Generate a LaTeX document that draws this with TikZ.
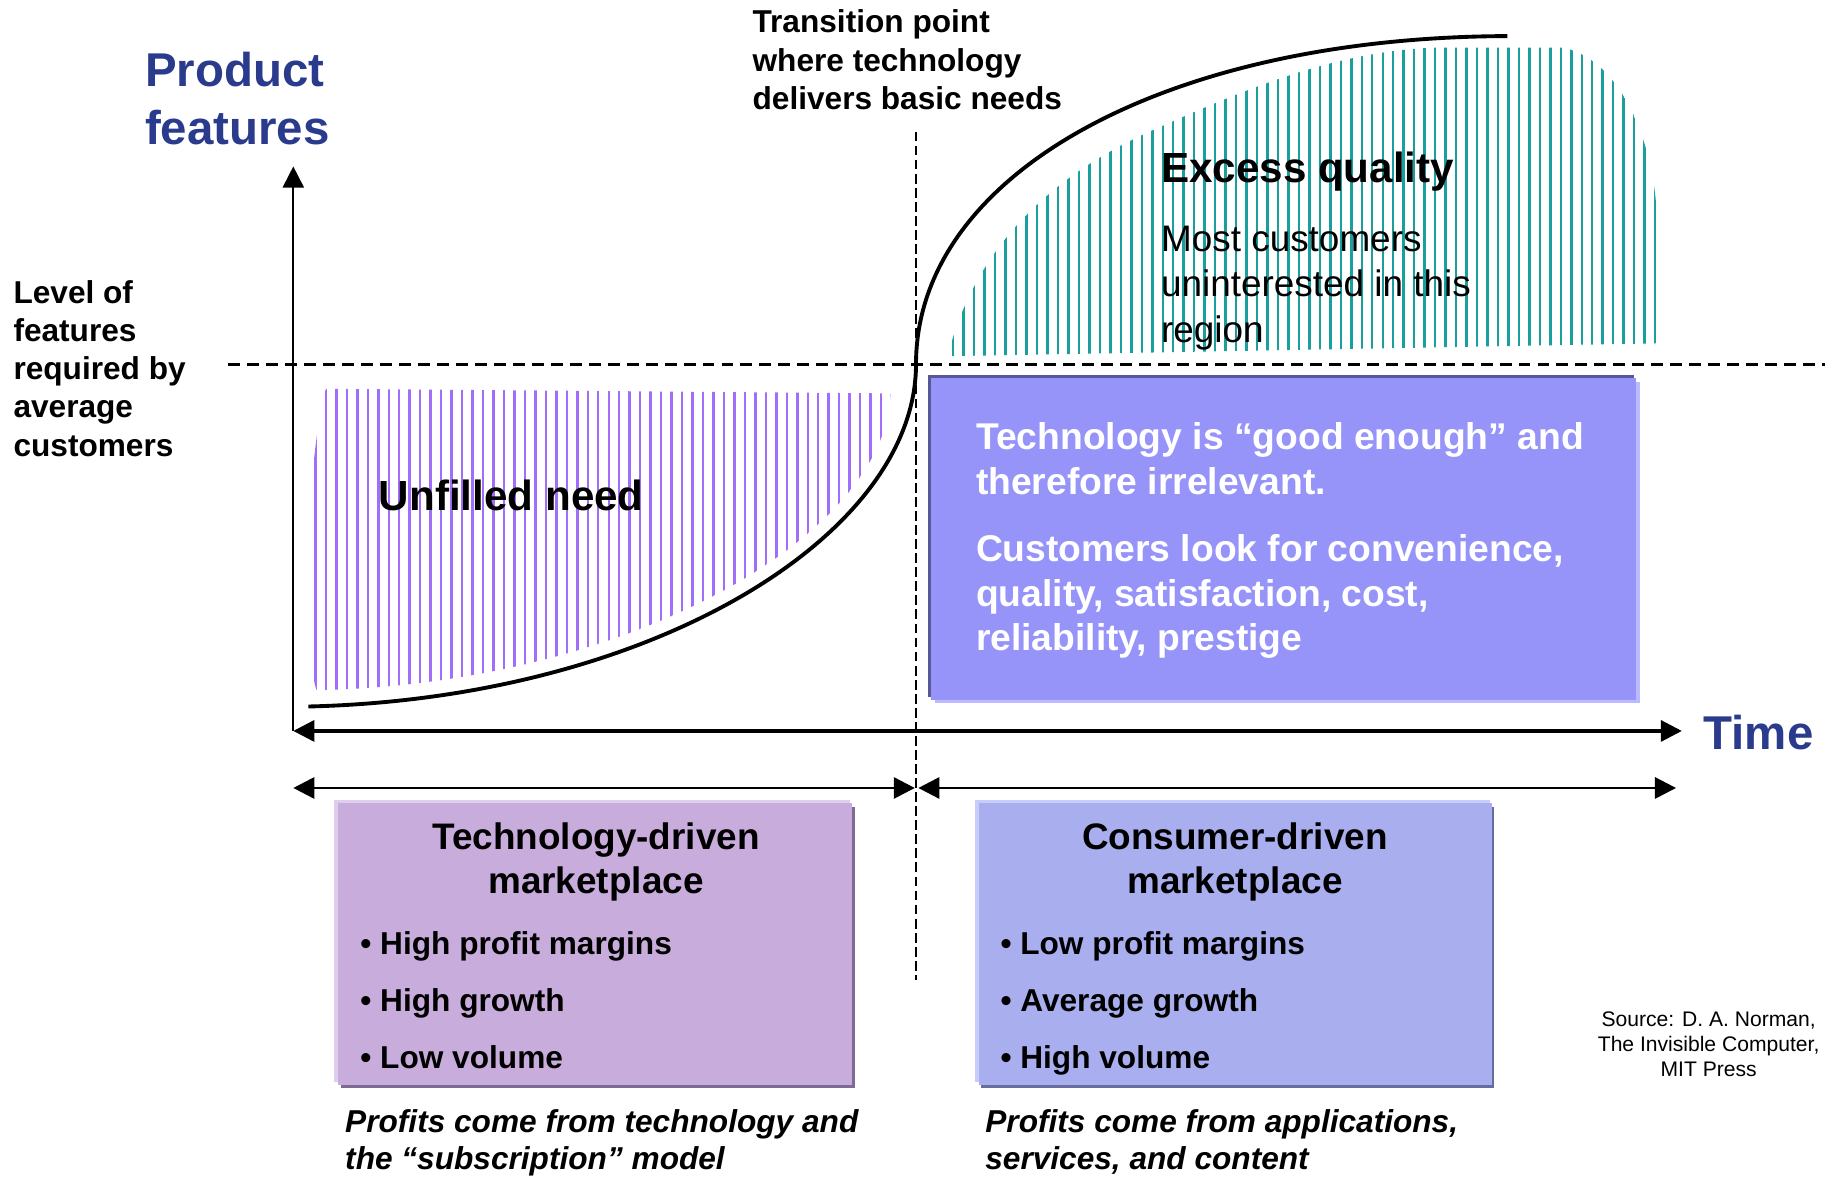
\documentclass[tikz,border=0pt]{standalone}
\usepackage{fontspec}
\setmainfont{Liberation Sans}
\usepackage{tikz}
\usetikzlibrary{arrows.meta, positioning}

\definecolor{axisblue}{RGB}{42,58,140}
\definecolor{needline}{RGB}{160,110,250}
\definecolor{excessline}{RGB}{25,160,158}
\definecolor{goodfill}{RGB}{150,148,249}
\definecolor{goodlight}{RGB}{188,186,255}
\definecolor{gooddark}{RGB}{88,88,150}
\definecolor{techfill}{RGB}{200,172,220}
\definecolor{techlight}{RGB}{222,206,236}
\definecolor{techdark}{RGB}{126,106,146}
\definecolor{consfill}{RGB}{168,174,238}
\definecolor{conslight}{RGB}{200,204,248}
\definecolor{consdark}{RGB}{104,108,158}

\begin{document}
\begin{tikzpicture}[x=0.11641mm, y=-0.11641mm,
    axislbl/.style={font=\fontsize{13.5}{16.5}\selectfont\bfseries, text=axisblue, inner sep=0, anchor=base west, align=left},
    notelbl/.style={font=\fontsize{9}{10.9}\selectfont\bfseries, inner sep=0, anchor=base west, align=left},
    regionlbl/.style={font=\fontsize{12}{14}\selectfont\bfseries, inner sep=0, anchor=base west},
    hintlbl/.style={font=\fontsize{10.5}{12.9}\selectfont, inner sep=0, anchor=base west, align=left},
    goodlbl/.style={font=\fontsize{10.6}{12.7}\selectfont\bfseries, text=white, inner sep=0, anchor=base west, align=left},
    titlelbl/.style={font=\fontsize{10.5}{12.6}\selectfont\bfseries, inner sep=0, anchor=base, align=center},
    listlbl/.style={font=\fontsize{9}{16.2}\selectfont\bfseries, inner sep=0, anchor=base west, align=left},
    profitlbl/.style={font=\fontsize{9}{10.6}\selectfont\bfseries\itshape, inner sep=0, anchor=base west, align=left},
    sourcelbl/.style={font=\fontsize{6}{7.1}\selectfont, inner sep=0, anchor=base, align=center},
    needhatch/.style={needline, line width=0.7pt},
    excesshatch/.style={excessline, line width=0.7pt},
    arrowtip/.tip={Triangle[length=6pt, width=6pt]},
    hdash/.style={line width=0.8pt, dash pattern=on 3.4pt off 2pt},
    vdash/.style={line width=0.45pt, dash pattern=on 2.8pt off 1.2pt}]
    \useasboundingbox (0,0) rectangle (1568,1011);

    % Points
    \coordinate (origin) at (252,628);
    \coordinate (ytop) at (252,143);
    \coordinate (tend) at (1445,628);
    \coordinate (techl) at (252,677);
    \coordinate (techr) at (786,677);
    \coordinate (consl) at (789,677);
    \coordinate (consr) at (1440,677);
    \coordinate (dtop) at (787,113);
    \coordinate (dbot) at (787,842);
    \coordinate (hleft) at (196,313);
    \coordinate (hright) at (1568,313);
    \coordinate (cstart) at (265,607);
    \coordinate (ctrans) at (787,313);
    \coordinate (cend) at (1295,31);

    % Unfilled need hatching
    \begin{scope}
        \clip (280,334) -- (765,338) .. controls (762,460) and (540,588) .. (272,593)
            .. controls (260,560) and (262,400) .. (280,334) -- cycle;
        \foreach \x in {262,271,...,772} \draw[needhatch] (\x,328) -- (\x,600);
    \end{scope}

    % Excess quality hatching
    \begin{scope}
        \clip (817,306) -- (817,296) .. controls (840,215) and (900,150) .. (997,109)
            .. controls (1080,72) and (1150,45) .. (1229,41) -- (1343,41)
            .. controls (1390,50) and (1424,120) .. (1424,200) -- (1424,295) -- cycle;
        \foreach \x in {819,828,...,1426} \draw[excesshatch] (\x,35) -- (\x,310);
    \end{scope}

    % Boxes
    \fill[gooddark] (797,322) rectangle (1404,599);
    \fill[goodlight] (803,328) rectangle (1409,604);
    \fill[goodfill] (800,325) rectangle (1406,601);
    \fill[techlight] (287,687) rectangle (730,930);
    \fill[techdark] (293,693) rectangle (735,935);
    \fill[techfill] (290,690) rectangle (732,932);
    \fill[conslight] (838,687) rectangle (1280,930);
    \fill[consdark] (843,693) rectangle (1284,935);
    \fill[consfill] (841,690) rectangle (1282,932);

    % Lines and axes
    \draw[hdash] (hleft) -- (hright);
    \draw[vdash] (dtop) -- (dbot);
    \draw[line width=0.5pt, -{arrowtip}] (origin) -- (ytop);
    \draw[line width=0.9pt, {arrowtip}-{arrowtip}] (origin) -- (tend);
    \draw[line width=0.8pt, {arrowtip}-{arrowtip}] (techl) -- (techr);
    \draw[line width=0.8pt, {arrowtip}-{arrowtip}] (consl) -- (consr);
    \draw[line width=1.1pt] (cstart) .. controls (560,600) and (787,460) .. (ctrans)
        .. controls (787,150) and (1000,32) .. (cend);

    % Labels (base = last line)
    \node[axislbl] (featlbl) at (124,124) {Product\\features};
    \node[axislbl] (timelbl) at (1463,644) {Time};
    \node[notelbl] (translbl) at (646,94) {Transition point\\where technology\\delivers basic needs};
    \node[notelbl] (levellbl) at (11,392) {Level of\\features\\required by\\average\\customers};
    \node[regionlbl] (needlbl) at (325,439) {Unfilled need};
    \node[regionlbl] (excesslbl) at (997,157) {Excess quality};
    \node[hintlbl] (excesstxt) at (997,294) {Most customers\\uninterested in this\\region};
    \node[goodlbl] (goodtxt) at (838,559) {Technology is “good enough” and\\therefore irrelevant.\\[6.3pt]Customers look for convenience,\\quality, satisfaction, cost,\\reliability, prestige};
    \node[titlelbl] (techtitle) at (512,768) {Technology-driven\\marketplace};
    \node[listlbl] (techlist) at (309,918) {• High profit margins\\• High growth\\• Low volume};
    \node[profitlbl] (techprofit) at (296,1005) {Profits come from technology and\\the “subscription” model};
    \node[titlelbl] (constitle) at (1061,768) {Consumer-driven\\marketplace};
    \node[listlbl] (conslist) at (859,918) {• Low profit margins\\• Average growth\\• High volume};
    \node[profitlbl] (consprofit) at (846,1005) {Profits come from applications,\\services, and content};
    \node[sourcelbl] (srclbl) at (1468,925) {Source: D. A. Norman,\\The Invisible Computer,\\MIT Press};
\end{tikzpicture}
\end{document}
